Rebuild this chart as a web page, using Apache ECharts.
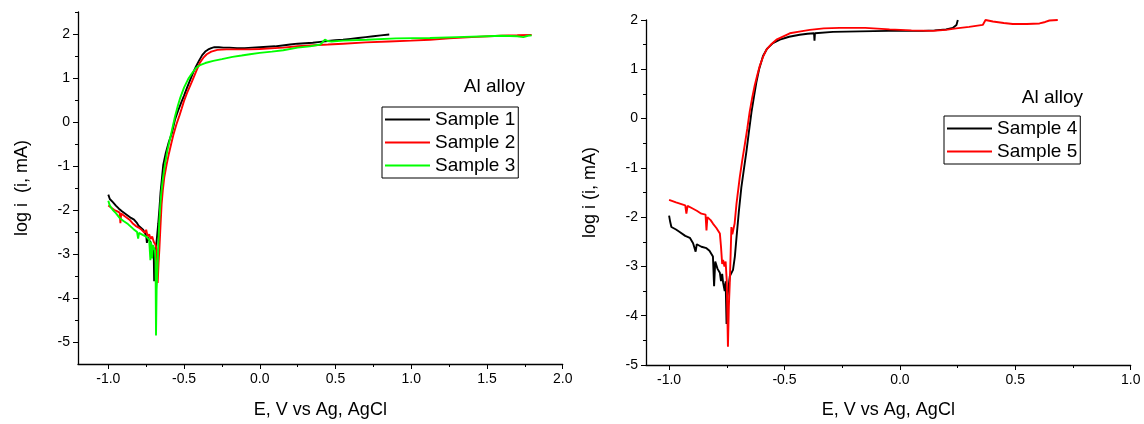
<!DOCTYPE html>
<html><head><meta charset="utf-8">
<script src="https://cdn.jsdelivr.net/npm/echarts@6/dist/echarts.min.js"></script>
<style>html,body{margin:0;padding:0;background:#fff}#c{width:1144px;height:424px}</style>
</head><body><div id="c"></div>
<script>
// ---- data (E in V vs Ag/AgCl, log i) ----
const sample1 = [[-1.0,-1.65],[-0.99,-1.75],[-0.97,-1.82],[-0.95,-1.9],[-0.93,-1.97],[-0.92,-1.95],[-0.91,-2.03],[-0.89,-2.08],[-0.87,-2.13],[-0.85,-2.18],[-0.83,-2.22],[-0.81,-2.3],[-0.80,-2.36],[-0.79,-2.33],[-0.77,-2.45],[-0.75,-2.58],[-0.745,-2.75],[-0.74,-2.62],[-0.72,-2.75],[-0.71,-2.85],[-0.70,-3.0],[-0.697,-3.62],[-0.693,-3.1],[-0.685,-2.85],[-0.678,-2.6],[-0.67,-2.3],[-0.662,-1.95],[-0.655,-1.6],[-0.645,-1.25],[-0.637,-0.97],[-0.62,-0.7],[-0.60,-0.45],[-0.58,-0.25],[-0.56,0.05],[-0.54,0.25],[-0.52,0.43],[-0.50,0.6],[-0.48,0.78],[-0.46,0.95],[-0.44,1.12],[-0.42,1.27],[-0.40,1.4],[-0.38,1.52],[-0.36,1.6],[-0.34,1.65],[-0.32,1.68],[-0.30,1.7],[-0.27,1.7],[-0.24,1.69],[-0.2,1.69],[-0.15,1.68],[-0.1,1.68],[-0.05,1.69],[0.0,1.7],[0.05,1.71],[0.1,1.72],[0.15,1.74],[0.2,1.76],[0.25,1.78],[0.3,1.79],[0.35,1.8],[0.4,1.82],[0.45,1.84],[0.5,1.86],[0.55,1.87],[0.6,1.89],[0.65,1.91],[0.7,1.93],[0.75,1.95],[0.8,1.97],[0.855,1.99]];
const sample2 = [[-1.0,-1.9],[-0.98,-1.95],[-0.96,-2.0],[-0.94,-2.03],[-0.925,-2.06],[-0.92,-2.3],[-0.915,-2.08],[-0.9,-2.12],[-0.88,-2.17],[-0.86,-2.22],[-0.84,-2.3],[-0.82,-2.36],[-0.80,-2.4],[-0.78,-2.45],[-0.76,-2.52],[-0.75,-2.45],[-0.74,-2.6],[-0.73,-2.55],[-0.72,-2.66],[-0.71,-2.6],[-0.70,-2.72],[-0.69,-2.78],[-0.68,-2.9],[-0.674,-3.66],[-0.668,-3.2],[-0.663,-2.91],[-0.656,-2.4],[-0.648,-1.87],[-0.64,-1.55],[-0.63,-1.25],[-0.615,-0.97],[-0.6,-0.72],[-0.585,-0.5],[-0.571,-0.3],[-0.55,-0.05],[-0.53,0.15],[-0.516,0.3],[-0.5,0.48],[-0.48,0.66],[-0.45,0.9],[-0.42,1.15],[-0.395,1.35],[-0.37,1.47],[-0.35,1.54],[-0.32,1.6],[-0.28,1.64],[-0.22,1.65],[-0.15,1.65],[-0.065,1.65],[0.0,1.66],[0.1,1.68],[0.155,1.69],[0.25,1.72],[0.331,1.74],[0.45,1.76],[0.551,1.78],[0.7,1.81],[0.85,1.83],[1.0,1.85],[1.123,1.87],[1.25,1.9],[1.4,1.93],[1.585,1.96],[1.7,1.97],[1.795,1.98]];
const sample3 = [[-1.0,-1.79],[-0.99,-1.9],[-0.97,-2.0],[-0.95,-2.07],[-0.923,-2.19],[-0.9,-2.25],[-0.87,-2.32],[-0.835,-2.43],[-0.81,-2.5],[-0.803,-2.65],[-0.797,-2.52],[-0.77,-2.57],[-0.747,-2.61],[-0.73,-2.68],[-0.722,-3.14],[-0.718,-2.72],[-0.714,-2.76],[-0.711,-3.1],[-0.706,-2.8],[-0.692,-2.91],[-0.688,-3.2],[-0.685,-4.85],[-0.681,-3.8],[-0.676,-3.43],[-0.67,-2.8],[-0.664,-2.3],[-0.659,-2.01],[-0.65,-1.6],[-0.64,-1.3],[-0.626,-0.97],[-0.61,-0.65],[-0.595,-0.42],[-0.582,-0.22],[-0.56,0.12],[-0.54,0.38],[-0.527,0.53],[-0.5,0.78],[-0.472,0.98],[-0.445,1.12],[-0.417,1.24],[-0.39,1.3],[-0.36,1.34],[-0.307,1.39],[-0.25,1.43],[-0.18,1.48],[-0.12,1.51],[-0.065,1.54],[0.0,1.57],[0.08,1.6],[0.155,1.63],[0.25,1.69],[0.331,1.72],[0.4,1.76],[0.43,1.87],[0.45,1.84],[0.474,1.83],[0.55,1.85],[0.705,1.87],[0.9,1.9],[1.123,1.91],[1.3,1.93],[1.5,1.95],[1.6,1.96],[1.7,1.95],[1.74,1.93],[1.77,1.96],[1.795,1.97]];
const sample4 = [[-1.0,-1.97],[-0.995,-2.1],[-0.99,-2.2],[-0.97,-2.25],[-0.954,-2.3],[-0.93,-2.38],[-0.91,-2.42],[-0.896,-2.53],[-0.885,-2.7],[-0.88,-2.55],[-0.86,-2.6],[-0.838,-2.63],[-0.825,-2.68],[-0.81,-2.8],[-0.805,-3.4],[-0.8,-2.9],[-0.79,-3.05],[-0.78,-3.13],[-0.775,-3.3],[-0.77,-3.15],[-0.766,-3.33],[-0.759,-3.5],[-0.755,-3.3],[-0.751,-4.17],[-0.747,-3.6],[-0.737,-3.2],[-0.723,-3.07],[-0.715,-2.8],[-0.708,-2.42],[-0.698,-1.9],[-0.687,-1.4],[-0.675,-1.0],[-0.665,-0.67],[-0.655,-0.3],[-0.643,0.13],[-0.632,0.45],[-0.622,0.73],[-0.61,1.0],[-0.593,1.27],[-0.575,1.42],[-0.55,1.53],[-0.52,1.6],[-0.48,1.66],[-0.434,1.7],[-0.4,1.72],[-0.372,1.73],[-0.37,1.58],[-0.368,1.73],[-0.29,1.76],[-0.174,1.77],[-0.05,1.78],[0.03,1.78],[0.1,1.78],[0.15,1.79],[0.2,1.81],[0.229,1.84],[0.245,1.9],[0.251,2.0]];
const sample5 = [[-1.0,-1.65],[-0.97,-1.7],[-0.95,-1.73],[-0.93,-1.76],[-0.925,-1.93],[-0.92,-1.77],[-0.9,-1.82],[-0.88,-1.87],[-0.86,-1.93],[-0.853,-1.97],[-0.842,-1.95],[-0.838,-2.27],[-0.834,-2.0],[-0.82,-2.06],[-0.81,-2.13],[-0.795,-2.22],[-0.78,-2.33],[-0.775,-2.6],[-0.77,-2.95],[-0.766,-2.87],[-0.76,-3.0],[-0.755,-2.9],[-0.75,-3.3],[-0.745,-4.63],[-0.741,-3.8],[-0.737,-3.33],[-0.733,-2.7],[-0.73,-2.2],[-0.726,-2.35],[-0.716,-2.13],[-0.708,-1.73],[-0.694,-1.2],[-0.683,-0.85],[-0.672,-0.53],[-0.661,-0.2],[-0.651,0.13],[-0.64,0.42],[-0.629,0.67],[-0.618,0.88],[-0.607,1.07],[-0.593,1.25],[-0.578,1.4],[-0.555,1.52],[-0.535,1.6],[-0.5,1.68],[-0.477,1.73],[-0.43,1.77],[-0.39,1.8],[-0.33,1.83],[-0.261,1.84],[-0.15,1.84],[-0.045,1.81],[0.05,1.79],[0.143,1.78],[0.2,1.8],[0.244,1.83],[0.3,1.86],[0.359,1.9],[0.365,1.95],[0.371,2.0],[0.403,1.97],[0.45,1.94],[0.489,1.92],[0.55,1.92],[0.605,1.93],[0.63,1.96],[0.648,1.99],[0.684,2.0]];

// ---- tick labels ----
const leftXTicks = [-1.0,-0.5,0.0,0.5,1.0,1.5,2.0];
const leftXMinor = [-1.0,-0.75,-0.5,-0.25,0,0.25,0.5,0.75,1.0,1.25,1.5,1.75,2.0];
const leftYTicks = [-5,-4,-3,-2,-1,0,1,2];
const leftYMinor = [-5,-4.5,-4,-3.5,-3,-2.5,-2,-1.5,-1,-0.5,0,0.5,1,1.5,2,2.5];
const rightXTicks = [-1.0,-0.5,0.0,0.5,1.0];
const rightXMinor = [-1.0,-0.75,-0.5,-0.25,0,0.25,0.5,0.75,1.0];
const rightYTicks = [-5,-4,-3,-2,-1,0,1,2];
const rightYMinor = [-5,-4.5,-4,-3.5,-3,-2.5,-2,-1.5,-1,-0.5,0,0.5,1,1.5,2];

const FONT = '"Liberation Sans", Arial, sans-serif';
const chart = echarts.init(document.getElementById('c'));

function majorAxis(grid, min, max, ticks, fmt, name, gap) {
  return {
    type:'value', gridIndex:grid, min:min, max:max,
    name:name, nameLocation:'middle', nameGap:gap,
    nameTextStyle:{fontSize:18, color:'#000', fontFamily:FONT},
    axisLine:{show:true, onZero:false, lineStyle:{color:'#000', width:1.3}},
    axisTick:{show:true, length:5, customValues:ticks, lineStyle:{color:'#000', width:1}},
    axisLabel:{show:true, customValues:ticks, formatter:fmt, fontSize:14, color:'#000', fontFamily:FONT, margin:8},
    splitLine:{show:false}
  };
}
function minorAxis(grid, min, max, ticks, pos) {
  return {
    type:'value', gridIndex:grid, min:min, max:max, position:pos,
    axisLine:{show:false, onZero:false},
    axisTick:{show:true, length:3, customValues:ticks, lineStyle:{color:'#000', width:1}},
    axisLabel:{show:false},
    splitLine:{show:false}
  };
}
const f1 = v => v.toFixed(1);
const f0 = v => String(v);

const xA = [
  Object.assign(majorAxis(0,-1.2,2.0,leftXTicks,f1,'E, V vs Ag, AgCl',37),{position:'bottom'}),
  minorAxis(0,-1.2,2.0,leftXMinor,'bottom'),
  Object.assign(majorAxis(1,-1.1,1.0,rightXTicks,f1,'E, V vs Ag, AgCl',36),{position:'bottom'}),
  minorAxis(1,-1.1,1.0,rightXMinor,'bottom')
];
const yA = [
  Object.assign(majorAxis(0,-5.5,2.5,leftYTicks,f0,'log i  (i, mA)',47),{position:'left'}),
  minorAxis(0,-5.5,2.5,leftYMinor,'left'),
  Object.assign(majorAxis(1,-5,2,rightYTicks,f0,'log i (i, mA)',47),{position:'left'}),
  minorAxis(1,-5,2,rightYMinor,'left')
];

function ser(name, data, color, xi, yi) {
  return {type:'line', name:name, data:data, xAxisIndex:xi, yAxisIndex:yi,
    symbol:'none', showSymbol:false, smooth:false, animation:false,
    lineStyle:{color:color, width:1.9}, itemStyle:{color:color}};
}
const legendCommon = {
  orient:'vertical', icon:'rect', itemWidth:45, itemHeight:2, itemGap:4,
  padding:[3,3,3,3], borderColor:'#000', borderWidth:1, backgroundColor:'#fff',
  selectedMode:false,
  textStyle:{fontSize:19, color:'#000', fontFamily:FONT}
};

chart.setOption({
  animation:false,
  backgroundColor:'#fff',
  grid:[
    {left:78, top:12, width:484.7, height:356, containLabel:false},
    {left:646, top:20, width:484.7, height:349.3, containLabel:false}
  ],
  xAxis:xA,
  yAxis:yA,
  title:[
    {text:'Al alloy', right:619, top:77, padding:0, textStyle:{fontSize:19, fontWeight:'normal', color:'#000', fontFamily:FONT}},
    {text:'Al alloy', right:61, top:88, padding:0, textStyle:{fontSize:19, fontWeight:'normal', color:'#000', fontFamily:FONT}}
  ],
  legend:[
    Object.assign({}, legendCommon, {data:['Sample 1','Sample 2','Sample 3'], left:382, top:107}),
    Object.assign({}, legendCommon, {data:['Sample 4','Sample 5'], left:944, top:116})
  ],
  series:[
    ser('Sample 1', sample1, '#000000', 0, 0),
    ser('Sample 2', sample2, '#ff0000', 0, 0),
    ser('Sample 3', sample3, '#00ff00', 0, 0),
    ser('Sample 4', sample4, '#000000', 2, 2),
    ser('Sample 5', sample5, '#ff0000', 2, 2)
  ]
});
</script></body></html>
